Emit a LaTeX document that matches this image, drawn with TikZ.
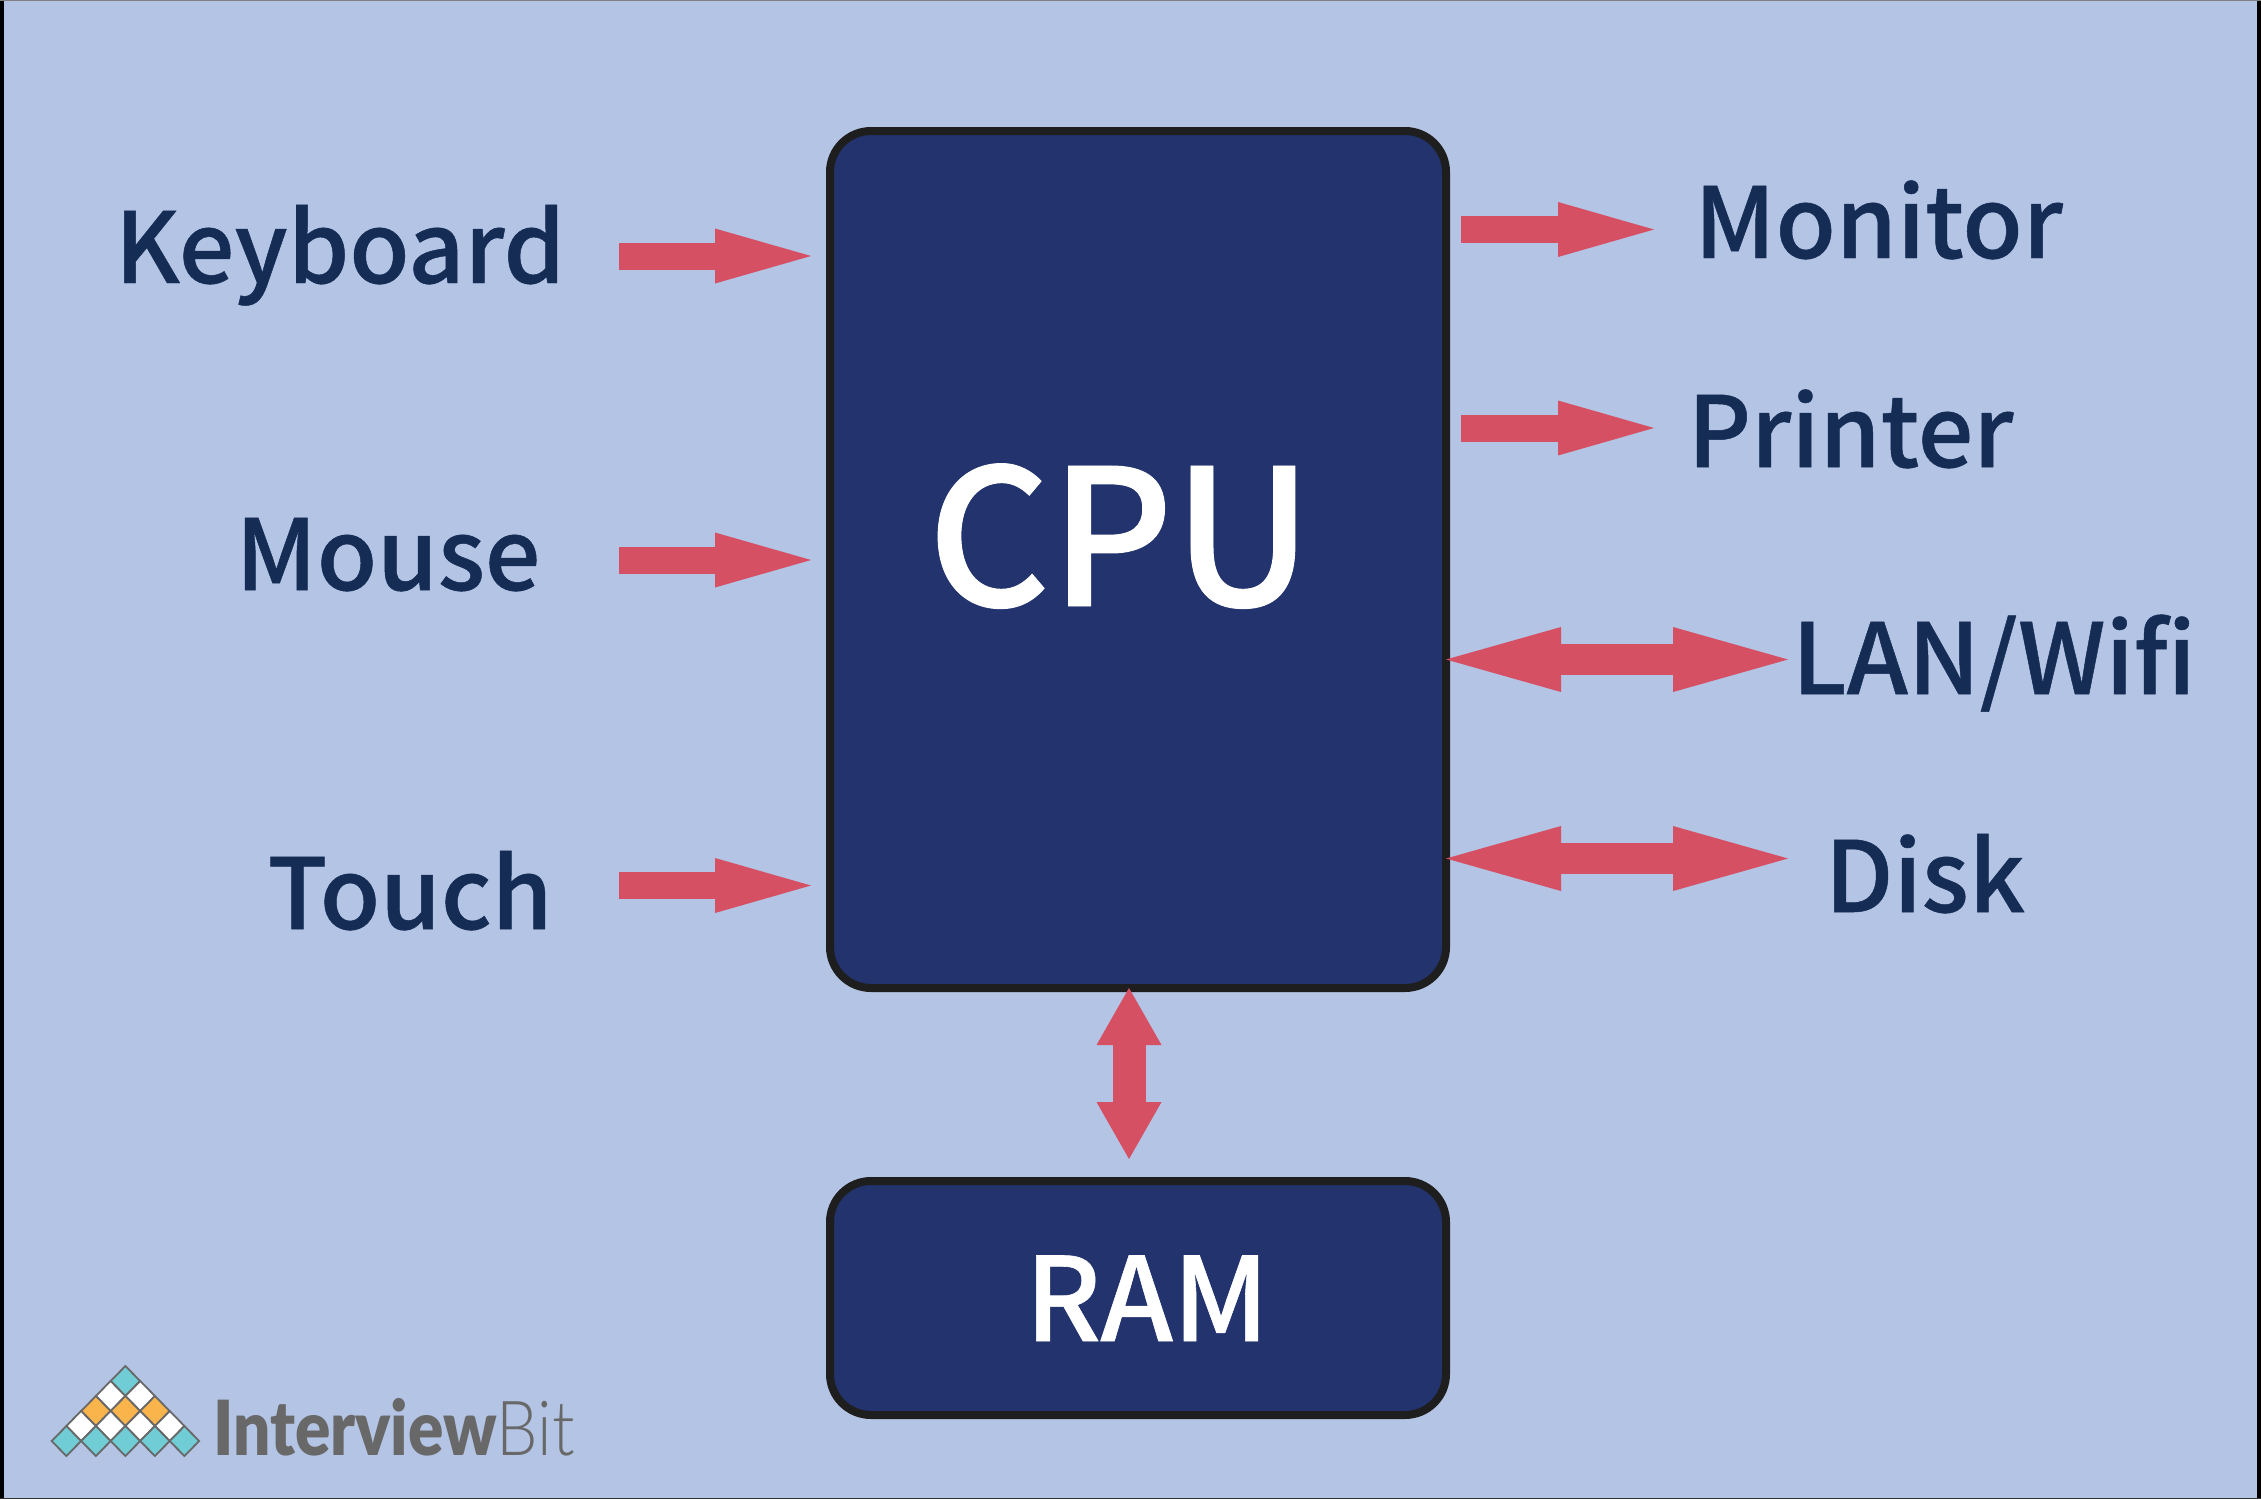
\documentclass[tikz,border=0pt]{standalone}
\usepackage{fontspec}
\usetikzlibrary{arrows.meta}
\newfontfamily\lblfont{Noto Sans CJK SC Medium}[FakeBold=0.5]
\newfontfamily\logofont{Lato Black}
\newfontfamily\logolight{Lato Light}
\definecolor{bgc}{HTML}{B4C4E4}
\definecolor{navy}{HTML}{22336E}
\definecolor{inkc}{HTML}{152C55}
\definecolor{redc}{HTML}{D55063}
\definecolor{edgec}{HTML}{1F1E1E}
\definecolor{logog}{HTML}{686868}
\definecolor{teal}{HTML}{70CDD5}
\definecolor{orng}{HTML}{F9B44C}
\tikzset{
  box/.style={draw=edgec,fill=navy,line width=8pt,rounded corners=41pt},
  lbl/.style={anchor=base,text=inkc,inner sep=0pt,font=\lblfont\fontsize{98}{120}\selectfont},
  inside/.style={anchor=base,text=white,inner sep=0pt},
  one/.style={draw=redc,line width=27pt,-{Triangle[length=96pt,width=55pt,line width=0pt]}},
  two/.style={draw=redc,line width=31pt,{Triangle[length=115pt,width=65pt,line width=0pt]}-{Triangle[length=115pt,width=65pt,line width=0pt]}},
  vert/.style={draw=redc,line width=33pt,{Triangle[length=57pt,width=65pt,line width=0pt]}-{Triangle[length=57pt,width=65pt,line width=0pt]}},
  dia/.style={draw=logog,line width=1.8pt,line join=miter},
}
\begin{document}
\begin{tikzpicture}[x=1pt,y=-1pt]
\useasboundingbox (0,0) rectangle (2261,1499);
\fill[bgc] (0,0) rectangle (2261,1499);
\fill[black] (0,0) rectangle (4,1499);
\fill[black] (2257,0) rectangle (2261,1499);
\fill[gray] (0,0) rectangle (2261,1.2);
\fill[black!80] (0,1498) rectangle (2261,1499);
% boxes
\path[box] (830,131) rectangle (1446,988);
\path[box] (830,1181) rectangle (1446,1415);
\node[inside,font=\lblfont\fontsize{190}{200}\selectfont] (cpu) at (1120,606) {CPU};
\node[inside,font=\lblfont\fontsize{116}{130}\selectfont] (ram) at (1147,1341) {RAM};
% labels
\node[lbl] (keyboard) at (340,283) {Keyboard};
\node[lbl] (mouse) at (388,590) {Mouse};
\node[lbl] (touch) at (410,929) {Touch};
\node[lbl] (monitor) at (1878.5,258) {Monitor};
\node[lbl] (printer) at (1850.5,467) {Printer};
\node[lbl] (lan) at (1994,694) {LAN/Wifi};
\node[lbl] (disk) at (1925,912) {Disk};
% connector ends
\coordinate (ka) at (619,256); \coordinate (kb) at (811,256);
\coordinate (ma) at (619,560); \coordinate (mb) at (811,560);
\coordinate (ta) at (619,885.5); \coordinate (tb) at (811,885.5);
\coordinate (moa) at (1461,229.5); \coordinate (mob) at (1654,229.5);
\coordinate (pa) at (1461,428); \coordinate (pb) at (1654,428);
\coordinate (la) at (1446,659.5); \coordinate (lb) at (1788,659.5);
\coordinate (da) at (1446,858.5); \coordinate (db) at (1788,858.5);
\coordinate (ra) at (1129,988); \coordinate (rb) at (1129,1159);
\draw[one] (ka) -- (kb);
\draw[one] (ma) -- (mb);
\draw[one] (ta) -- (tb);
\draw[one] (moa) -- (mob);
\draw[one] (pa) -- (pb);
\draw[two] (la) -- (lb);
\draw[two] (da) -- (db);
\draw[vert] (ra) -- (rb);
% logo
\foreach \c/\x/\y in {teal/125.4/1381,white/110.6/1396,white/140.2/1396,
  orng/95.9/1411,orng/125.4/1411,orng/154.9/1411,
  white/81.1/1426,white/110.6/1426,white/140.2/1426,white/169.7/1426,
  teal/66.4/1441,teal/95.9/1441,teal/125.4/1441,teal/154.9/1441,teal/184.4/1441}{
  \path[dia,fill=\c] (\x-14.75,\y) -- (\x,\y-15) -- (\x+14.75,\y) -- (\x,\y+15) -- cycle;
}
\node[anchor=base west,inner sep=0pt,text=logog,font=\logofont\fontsize{76}{80}\selectfont] (logotext) at (213,1455) {\scalebox{0.864}[1]{Interview}\scalebox{0.864}[1]{\logolight Bit}};
\end{tikzpicture}
\end{document}
